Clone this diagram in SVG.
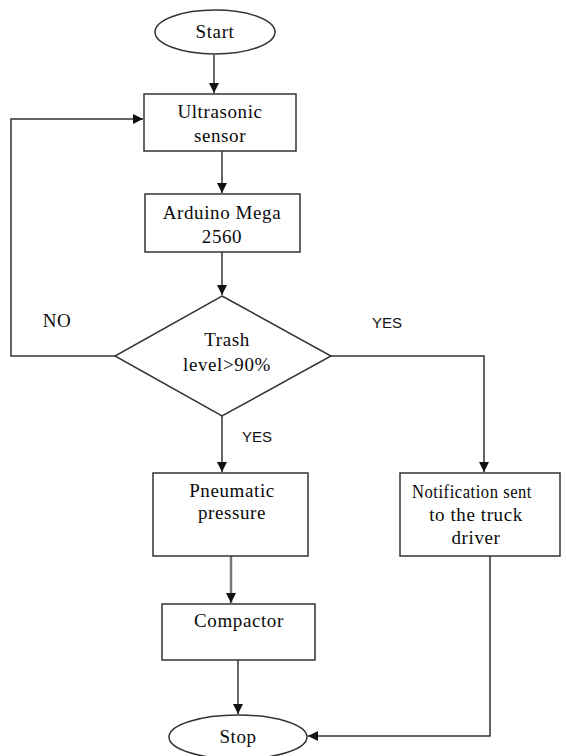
<svg xmlns="http://www.w3.org/2000/svg" width="566" height="756" viewBox="0 0 566 756">
<style>
.shape{fill:#fff;stroke:#333;stroke-width:1.5}
.t{font-family:"Liberation Serif","Times New Roman",serif;font-size:19px;fill:#0a0a0a;text-anchor:middle;letter-spacing:0.6px}
.s{font-family:"Liberation Sans",Arial,sans-serif;font-size:15px;fill:#111}
.c{fill:none;stroke:#333;stroke-width:1.5}
</style>
<defs>
<marker id="ah" viewBox="0 0 10 10" refX="10" refY="5" markerWidth="10" markerHeight="10" markerUnits="userSpaceOnUse" orient="auto">
<path d="M0,0 L10,5 L0,10 z" fill="#111"/>
</marker>
</defs>
<rect width="566" height="756" fill="#fff"/>
<g id="connectors">
<line class="c" x1="214" y1="55" x2="214" y2="93" marker-end="url(#ah)"/>
<line class="c" x1="222" y1="151" x2="222" y2="193" marker-end="url(#ah)"/>
<line class="c" x1="222" y1="252" x2="222" y2="295" marker-end="url(#ah)"/>
<polyline class="c" points="115,356 11,356 11,119 143,119" marker-end="url(#ah)"/>
<polyline class="c" points="331,356 484,356 484,472" marker-end="url(#ah)"/>
<line class="c" x1="222" y1="416" x2="222" y2="472" marker-end="url(#ah)"/>
<line x1="231" y1="556" x2="231" y2="603" stroke="#777" stroke-width="2.5" marker-end="url(#ah)"/>
<line class="c" x1="238" y1="660" x2="238" y2="714" marker-end="url(#ah)"/>
<polyline class="c" points="490,556 490,736 308,736" marker-end="url(#ah)"/>
</g>
<g id="start">
<ellipse class="shape" cx="215" cy="32" rx="60" ry="22"/>
<text class="t" x="215" y="38">Start</text>
</g>
<g id="ultrasonic">
<rect class="shape" x="144" y="94" width="152" height="57"/>
<text class="t" x="220" y="118">Ultrasonic</text>
<text class="t" x="220" y="142">sensor</text>
</g>
<g id="arduino">
<rect class="shape" x="145" y="194" width="155" height="58"/>
<text class="t" x="222" y="219">Arduino Mega</text>
<text class="t" x="222" y="243">2560</text>
</g>
<g id="decision">
<polygon class="shape" points="222,296 331,356 222,416 115,356"/>
<text class="t" x="227" y="346">Trash</text>
<text class="t" x="227" y="371">level&gt;90%</text>
</g>
<g id="labels">
<text class="t" x="57" y="327">NO</text>
<text class="s" x="372" y="328">YES</text>
<text class="s" x="242" y="442">YES</text>
</g>
<g id="pneumatic">
<rect class="shape" x="153" y="473" width="155" height="83"/>
<text class="t" x="232" y="497">Pneumatic</text>
<text class="t" x="232" y="519">pressure</text>
</g>
<g id="notification">
<rect class="shape" x="400" y="473" width="160" height="83"/>
<text class="t" x="472" y="498" textLength="120" lengthAdjust="spacingAndGlyphs">Notification sent</text>
<text class="t" x="476" y="521">to the truck</text>
<text class="t" x="476" y="544">driver</text>
</g>
<g id="compactor">
<rect class="shape" x="162" y="604" width="153" height="56"/>
<text class="t" x="239" y="627">Compactor</text>
</g>
<g id="stop">
<ellipse class="shape" cx="238" cy="737" rx="69" ry="22"/>
<text class="t" x="238" y="743">Stop</text>
</g>
</svg>
